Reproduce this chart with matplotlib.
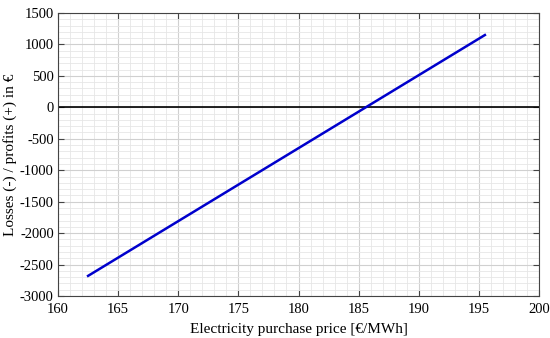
import numpy as np
import matplotlib.pyplot as plt
from matplotlib.ticker import MultipleLocator

# data
price = [162.5, 195.5]          # €/MWh
profit = [-2680, 1150]          # €

plt.rcParams['font.family'] = ['Liberation Serif', 'DejaVu Serif']
plt.rcParams['axes.unicode_minus'] = False

fig = plt.figure(figsize=(5.5, 3.38), dpi=100)
ax = fig.add_axes([0.1055, 0.1243, 0.8745, 0.8372])

ax.plot(price, profit, color='#0000cc', lw=1.8, zorder=3)
ax.axhline(0, color='black', lw=1.2, zorder=2)

ax.set_xlim(160, 200)
ax.set_ylim(-3000, 1500)
ax.xaxis.set_major_locator(MultipleLocator(5))
ax.xaxis.set_minor_locator(MultipleLocator(1))
ax.yaxis.set_major_locator(MultipleLocator(500))
ax.yaxis.set_minor_locator(MultipleLocator(100))

ax.grid(which='major', color='#d0d0d0', lw=0.8)
ax.grid(which='minor', color='#e6e6e6', lw=0.6)
ax.set_axisbelow(True)

ax.tick_params(which='major', direction='in', top=True, right=True,
               length=4, labelsize=10.5, color='#444444', pad=3)
ax.tick_params(axis='x', which='major', pad=5)
ax.tick_params(which='minor', length=0)
for s in ax.spines.values():
    s.set_color('#444444')
    s.set_linewidth(0.8)

ax.set_xlabel('Electricity purchase price [€/MWh]', fontsize=11, labelpad=5)
ax.set_ylabel('Losses (-) / profits (+) in €', fontsize=11, labelpad=2)

fig.savefig('out.png', dpi=100)
